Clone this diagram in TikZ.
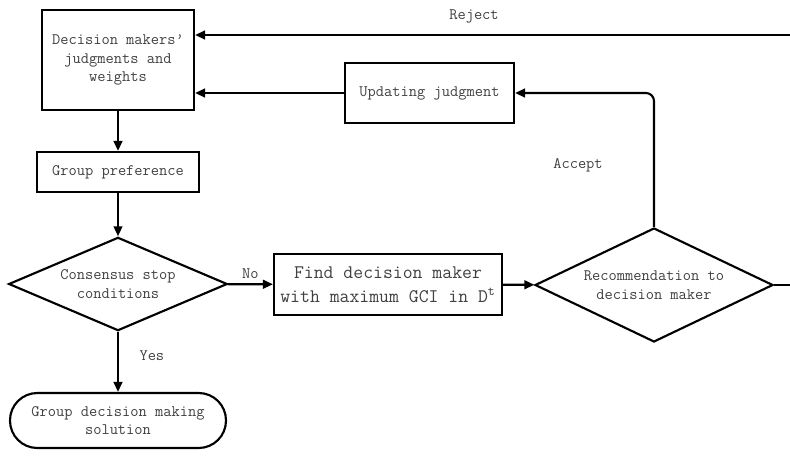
\documentclass[tikz,border=0pt]{standalone}
\usepackage{fontspec}
\usepackage{tikz}
\usetikzlibrary{arrows.meta,shapes.geometric}
\tikzset{every picture/.style={line width=1.6pt}}

\begin{document}
\begin{tikzpicture}[x=0.75pt,y=0.75pt,yscale=-1,xscale=1,
  font=\ttfamily\fontsize{12}{14}\selectfont, text=black!75,
  stepbox/.style={draw=black, rectangle, inner sep=0pt, align=center},
  decide/.style={draw=black, diamond, inner sep=0pt, align=center},
  endbox/.style={draw=black, rectangle, rounded corners=20.5pt, inner sep=0pt, align=center},
  arr/.style={-{Triangle[length=7.5pt,width=6.5pt]}}]
\path[use as bounding box] (0,0) rectangle (790,458);

% Shapes
\node (dm) at (118,60) [stepbox, minimum width=114pt, minimum height=75pt] {Decision makers’\\judgments and\\weights};
\node (upd) at (429.5,93) [stepbox, minimum width=126.75pt, minimum height=45pt] {Updating judgment};
\node (grp) at (118,172) [stepbox, minimum width=121.5pt, minimum height=30pt] {Group preference};
\node (cons) at (118,284) [decide, aspect=2.37, minimum width=164pt, minimum height=70pt] {Consensus stop\\conditions};
\node (find) at (388,284.5) [stepbox, minimum width=171pt, minimum height=45.75pt, font=\ttfamily\fontsize{14.4}{18}\selectfont] {Find decision maker\\with maximum GCI in D\textsuperscript{t}};
\node (rec) at (654,285) [decide, aspect=2.09, minimum width=178.5pt, minimum height=85.5pt] {Recommendation to\\decision maker};
\node (sol) at (118,420.5) [endbox, minimum width=162pt, minimum height=41.25pt] {Group decision making\\solution};
\coordinate (rj) at (800,35);

% Straight Lines
\draw [arr] (dm) -- (grp);
\draw [arr] (grp) -- (cons);
\draw [arr] (cons) -- node [above] {No} (find);
\draw [arr] (cons) -- node [pos=0.4, right=12pt] {Yes} (sol);
\draw [arr] (find) -- (rec);
\draw [arr] (upd.west) -- (upd.west -| dm.east);
% Curve Lines
\draw [arr, rounded corners=6pt] (rec.north) |- (upd.east);
\draw [arr] (rec.east) -| (rj) -- (rj -| dm.east);

% Text Node
\node (acc) at (578,165) {Accept};
% Text Node
\node (rej) at (474,16) {Reject};

\end{tikzpicture}
\end{document}
